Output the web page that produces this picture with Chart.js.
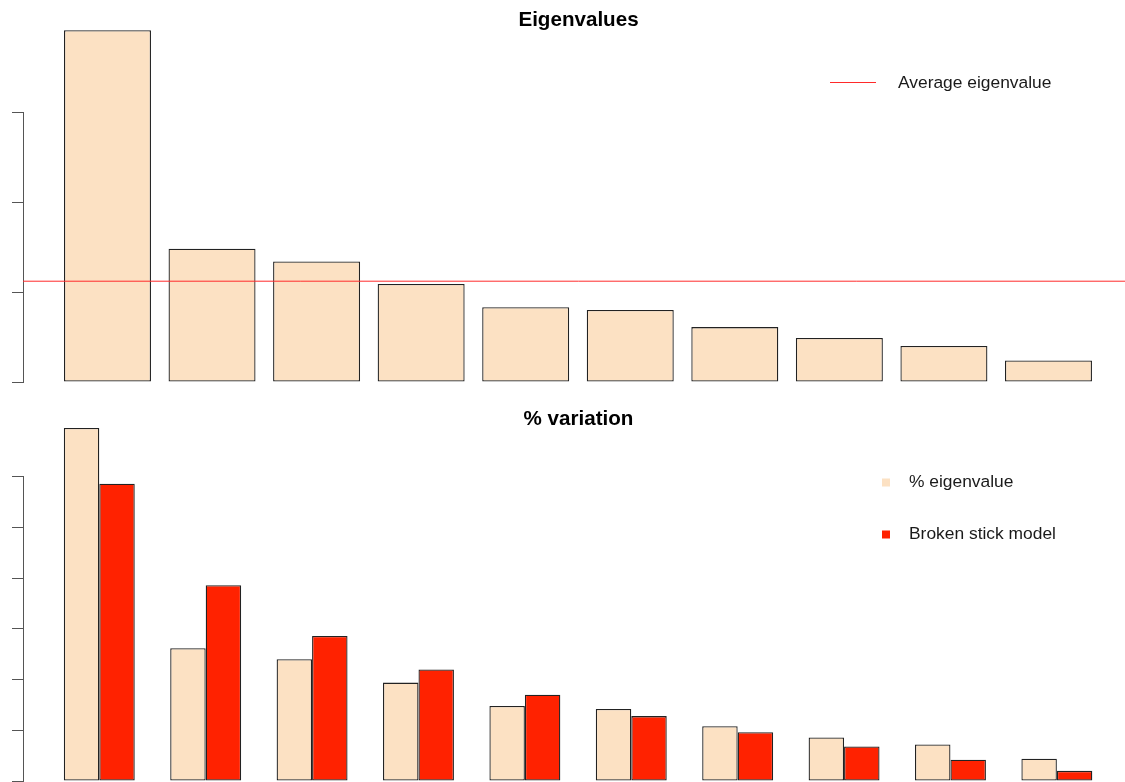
<!DOCTYPE html>
<html>
<head>
<meta charset="utf-8">
<script src="https://cdn.jsdelivr.net/npm/chart.js@4.4.1/dist/chart.umd.min.js"></script>
<style>
  html, body { margin: 0; padding: 0; background: #ffffff; overflow: hidden; }
  #wrap { position: relative; width: 1125px; height: 782px; overflow: hidden; }
  canvas { position: absolute; left: 0; }
  #top { top: 0; }
  #bottom { top: 392px; }
</style>
</head>
<body>
<div id="wrap">
  <canvas id="top" width="1134" height="392"></canvas>
  <canvas id="bottom" width="1134" height="390"></canvas>
</div>
<script>
// ---- data ----
const components = ['PC1', 'PC2', 'PC3', 'PC4', 'PC5', 'PC6', 'PC7', 'PC8', 'PC9', 'PC10'];
const eigenvalues = [3.91, 1.48, 1.34, 1.09, 0.83, 0.80, 0.61, 0.49, 0.40, 0.24];
const averageEigenvalue = 1.12;
const pctEigenvalue = [34.8, 13.1, 12.0, 9.7, 7.4, 7.1, 5.4, 4.3, 3.6, 2.2];
const brokenStick = [29.3, 19.3, 14.3, 11.0, 8.5, 6.4, 4.8, 3.4, 2.1, 1.0];
const eigenTicks = [0, 1, 2, 3];
const pctTicks = [0, 5, 10, 15, 20, 25, 30];

const titleTop = 'Eigenvalues';
const titleBottom = '% variation';
const labelAverage = 'Average eigenvalue';
const labelPct = '% eigenvalue';
const labelBroken = 'Broken stick model';

// ---- styles ----
const FONT = '"Liberation Sans", Arial, Helvetica, sans-serif';
const PALE = '#FCE1C3';
const RED = '#FF2200';
const LINE_RED = '#FF2A2A';
const BAR_BORDER = '#222222';
const AXIS = '#555555';

Chart.defaults.font.family = FONT;
Chart.defaults.devicePixelRatio = 1;

// R-style legend drawn inside the plot (plain config captured by closure)
function makeLegend(cfg) {
  return {
    id: 'rLegend',
    afterDraw(chart) {
      const ctx = chart.ctx;
      ctx.save();
      ctx.globalAlpha = 1;
      ctx.font = cfg.fontSize + 'px ' + FONT;
      ctx.textBaseline = 'middle';
      ctx.textAlign = 'left';
      cfg.items.forEach((it, k) => {
        const ds = chart.data.datasets[it.dataset];
        const y = cfg.y + k * cfg.gap;
        ctx.fillStyle = it.color;
        if (it.symbol === 'line') {
          ctx.fillRect(cfg.symX0, Math.round(y) - 1, cfg.symX1 - cfg.symX0, 1);
        } else {
          ctx.fillRect(cfg.symX - cfg.box / 2, y - cfg.box / 2, cfg.box, cfg.box);
        }
        ctx.fillStyle = cfg.color;
        ctx.fillText(ds.label, cfg.textX, y);
      });
      ctx.restore();
    }
  };
}

function yAxis(ticks) {
  return {
    min: ticks[0],
    max: ticks[ticks.length - 1],
    afterBuildTicks: (s) => { s.ticks = ticks.map(v => ({ value: v })); },
    ticks: { display: false },
    grid: { display: true, drawOnChartArea: false, drawTicks: true, tickLength: 11, color: AXIS, lineWidth: 1 },
    border: { display: true, color: AXIS, width: 1 }
  };
}

function xAxis(min, max) {
  return {
    type: 'linear',
    min: min,
    max: max,
    offset: false,
    display: false,
    ticks: { stepSize: 1, includeBounds: false },
    grid: { display: false }
  };
}

// ---- top panel: eigenvalues ----
const xTopMin = 0.192, xTopMax = 10.818;
new Chart(document.getElementById('top'), {
  type: 'bar',
  data: {
    datasets: [
      {
        type: 'bar',
        label: titleTop,
        data: eigenvalues.map((v, i) => ({ x: i + 1, y: v, c: components[i] })),
        backgroundColor: PALE,
        borderColor: BAR_BORDER,
        borderWidth: 1.3,
        borderSkipped: false,
        categoryPercentage: 1,
        barPercentage: 0.832,
        clip: false,
        order: 2
      },
      {
        type: 'line',
        label: labelAverage,
        data: [{ x: xTopMin, y: averageEigenvalue }, { x: xTopMax, y: averageEigenvalue }],
        borderColor: LINE_RED,
        borderWidth: 1,
        pointRadius: 0,
        fill: false,
        order: 1
      }
    ]
  },
  options: {
    responsive: false,
    animation: false,
    layout: { padding: { left: 12, right: 0, top: 0, bottom: 10 } },
    scales: { x: xAxis(xTopMin, xTopMax), y: yAxis(eigenTicks) },
    plugins: {
      legend: { display: false },
      tooltip: { enabled: false },
      title: {
        display: true,
        fullSize: false,
        text: titleTop,
        color: '#000000',
        font: { family: FONT, size: 20.6, weight: 'bold' },
        padding: { top: 8, bottom: 79.3 }
      }
    }
  },
  plugins: [makeLegend({
    items: [{ dataset: 1, symbol: 'line', color: LINE_RED }],
    y: 83, gap: 0,
    symX0: 830, symX1: 876,
    textX: 898, fontSize: 17.4, color: '#1a1a1a'
  })]
});

// ---- bottom panel: % variation ----
const xBotMin = 0.283, xBotMax = 10.725;
new Chart(document.getElementById('bottom'), {
  type: 'bar',
  data: {
    datasets: [
      {
        label: labelPct,
        data: pctEigenvalue.map((v, i) => ({ x: i + 1, y: v, c: components[i] })),
        backgroundColor: PALE,
        borderColor: BAR_BORDER,
        borderWidth: 1.3,
        borderSkipped: false,
        categoryPercentage: 2 / 3,
        barPercentage: 1,
        clip: false
      },
      {
        label: labelBroken,
        data: brokenStick.map((v, i) => ({ x: i + 1, y: v, c: components[i] })),
        backgroundColor: RED,
        borderColor: BAR_BORDER,
        borderWidth: 1.3,
        borderSkipped: false,
        categoryPercentage: 2 / 3,
        barPercentage: 1,
        clip: false
      }
    ]
  },
  options: {
    responsive: false,
    animation: false,
    layout: { padding: { left: 12, right: 0, top: 0, bottom: 1 } },
    scales: { x: xAxis(xBotMin, xBotMax), y: yAxis(pctTicks) },
    plugins: {
      legend: { display: false },
      tooltip: { enabled: false },
      title: {
        display: true,
        fullSize: false,
        text: titleBottom,
        color: '#000000',
        font: { family: FONT, size: 20.6, weight: 'bold' },
        padding: { top: 15, bottom: 45 }
      }
    }
  },
  plugins: [makeLegend({
    items: [{ dataset: 0, symbol: 'box', color: PALE }, { dataset: 1, symbol: 'box', color: RED }],
    y: 482.5 - 392, gap: 52,
    symX: 886, box: 8,
    textX: 909, fontSize: 17.4, color: '#1a1a1a'
  })]
});
</script>
</body>
</html>
